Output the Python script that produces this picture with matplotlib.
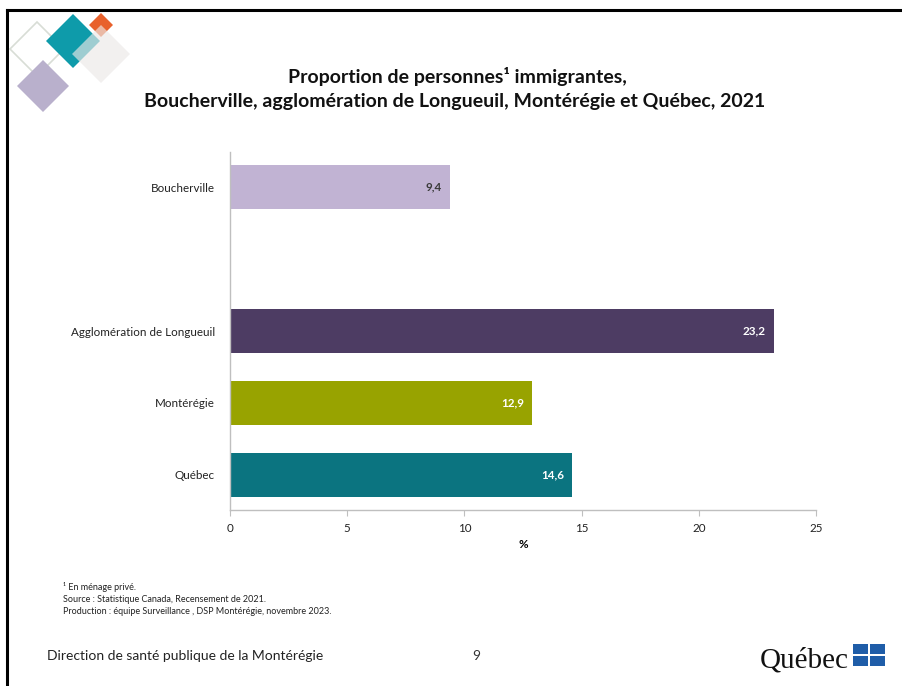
import matplotlib

matplotlib.use("Agg")
import matplotlib.pyplot as plt  # noqa: E402
from matplotlib.patches import Polygon, Rectangle  # noqa: E402
from matplotlib.lines import Line2D  # noqa: E402

plt.rcParams["font.family"] = ["Lato", "DejaVu Sans"]

# Data (bottom to top in the chart; None = empty slot)
categories = ["Québec", "Montérégie", "Agglomération de Longueuil", "", "Boucherville"]
values = [14.6, 12.9, 23.2, None, 9.4]
value_labels = ["14,6", "12,9", "23,2", "", "9,4"]
colors = ["#0B7480", "#98A300", "#4D3C63", "none", "#C1B3D3"]
label_colors = ["white", "white", "white", "white", "#3A3A3A"]
xticks = [0, 5, 10, 15, 20, 25]

footnotes = [
    "¹ En ménage privé.",
    "Source : Statistique Canada, Recensement de 2021.",
    "Production : équipe Surveillance , DSP Montérégie, novembre 2023.",
]

W, H = 902, 686
fig = plt.figure(figsize=(W / 100, H / 100), dpi=100)


def fx(px):
    return px / W


def fy(py):
    return 1 - py / H


# slide frame
fig.add_artist(Line2D([fx(7), fx(7)], [fy(10), 0], color="black", lw=2.2,
                      transform=fig.transFigure))
fig.add_artist(Line2D([fx(7), 1], [fy(10), fy(10)], color="black", lw=2.2,
                      transform=fig.transFigure))


def diamond(cx, cy, r, **kw):
    pts = [(fx(cx), fy(cy - r)), (fx(cx + r), fy(cy)),
           (fx(cx), fy(cy + r)), (fx(cx - r), fy(cy))]
    fig.add_artist(Polygon(pts, closed=True, transform=fig.transFigure, **kw))


# decorative logo
diamond(37, 49, 27, facecolor="none", edgecolor="#D8DDD6", lw=1.2)
diamond(43, 86, 26, facecolor="#B9B0CC", edgecolor="none")
diamond(73, 41, 27, facecolor="#0E9BAA", edgecolor="none")
diamond(101, 25, 12, facecolor="#E8612C", edgecolor="none")
diamond(101, 54, 29, facecolor="#ECE9E7", edgecolor="none", alpha=0.65)

# title
fig.text(fx(457), fy(76), "Proportion de personnes¹ immigrantes,",
         ha="center", va="center", fontsize=14, fontweight="bold", color="#111111")
fig.text(fx(455), fy(101),
         "Boucherville, agglomération de Longueuil, Montérégie et Québec, 2021",
         ha="center", va="center", fontsize=14, fontweight="bold", color="#111111")

ax = fig.add_axes([fx(230), fy(510), fx(816) - fx(230), fy(152) - fy(510)])
ypos = list(range(len(categories)))
for y, v, c in zip(ypos, values, colors):
    if v is not None:
        ax.barh(y, v, height=0.61, color=c)
for y, v, lab, lc in zip(ypos, values, value_labels, label_colors):
    if v is not None:
        ax.text(v - 0.35, y, lab, ha="right", va="center", fontsize=8.4,
                fontweight="bold", color=lc)

ax.set_xlim(0, 25)
ax.set_ylim(-0.49, 4.49)
ax.set_xticks(xticks)
ax.set_xticklabels([str(t) for t in xticks], fontsize=8.4, color="#222222")
ax.set_yticks(ypos)
ax.set_yticklabels(categories, fontsize=8.4, color="#222222")
ax.tick_params(axis="y", length=0, pad=11)
ax.tick_params(axis="x", length=4, color="#BFBFBF", pad=5)
for s in ("top", "right"):
    ax.spines[s].set_visible(False)
for s in ("left", "bottom"):
    ax.spines[s].set_color("#BFBFBF")
    ax.spines[s].set_linewidth(1)
ax.set_xlabel("%", fontsize=8.4, fontweight="bold", labelpad=4)

# footnotes
for i, t in enumerate(footnotes):
    fig.text(fx(63), fy(587 + 12 * i), t, ha="left", va="center", fontsize=6.5,
             color="#222222")

# footer
fig.text(fx(47), fy(656), "Direction de santé publique de la Montérégie",
         ha="left", va="center", fontsize=10, color="#222222")
fig.text(fx(476), fy(656), "9", ha="center", va="center", fontsize=10,
         color="#333333")

# Québec logo
fig.text(fx(849), fy(667), "Québec", ha="right", va="baseline",
         fontsize=21, family=["Liberation Serif", "DejaVu Serif"], color="#111111")
for (x0, y0) in [(853, 644), (870, 644), (853, 656), (870, 656)]:
    fig.add_artist(Rectangle((fx(x0), fy(y0 + 10)), fx(15), 10 / H,
                             facecolor="#1F5DA8", edgecolor="none",
                             transform=fig.transFigure))

fig.savefig("out.png", dpi=100)
